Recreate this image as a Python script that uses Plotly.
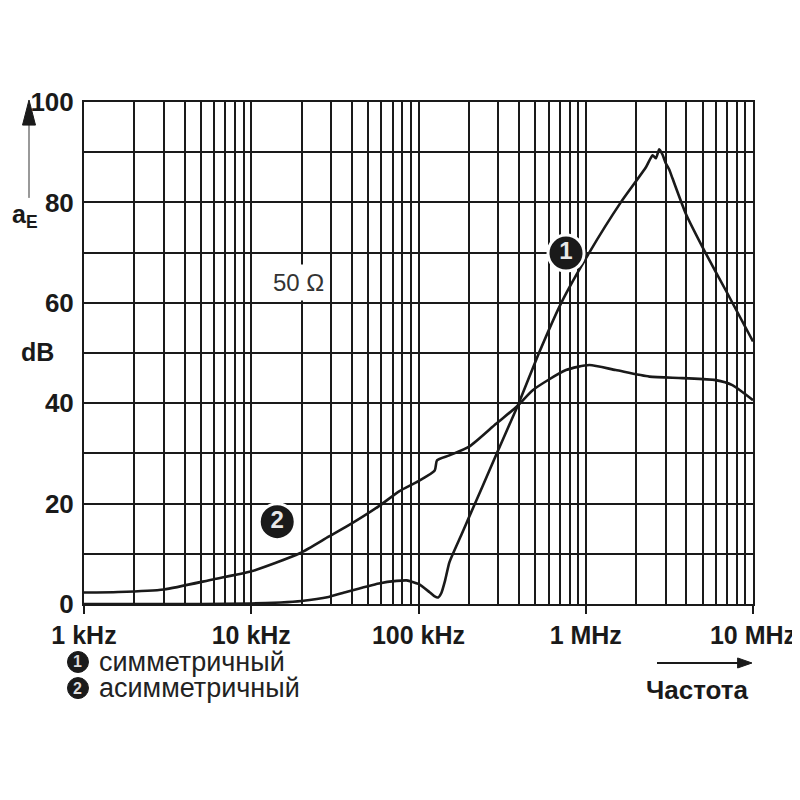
import plotly.graph_objects as go

# Частота, Гц и затухание, dB
freq_sym = [1000, 5000, 10000, 15000, 20000, 29000, 37000, 58000, 74000, 85000,
            100000, 116000, 125000, 131000, 137000, 144000, 153000, 180000,
            206000, 242000, 291000, 392000, 525000, 714000, 1050000, 1620000,
            2290000, 2510000, 2630000, 2750000, 2880000, 3010000, 3160000,
            3300000, 3960000, 5210000, 6870000, 10000000]
db_sym = [0.0, 0.0, 0.1, 0.3, 0.6, 1.4, 2.4, 4.1, 4.6, 4.7,
          4.0, 2.4, 1.5, 1.3, 2.2, 4.6, 8.3, 13.7,
          18.2, 23.5, 29.7, 39.5, 50.0, 60.0, 70.0, 80.0,
          87.0, 89.4, 88.8, 90.6, 89.5, 87.8, 86.5,
          84.8, 77.8, 69.9, 62.5, 52.3]

freq_asym = [1000, 1600, 3000, 5900, 10000, 19500, 29000, 37000, 58000, 77000,
             100000, 125000, 129000, 153000, 202000, 291000, 392000, 482000,
             762000, 1050000, 1510000, 2400000, 3780000, 5980000, 7530000,
             10000000]
db_asym = [2.3, 2.4, 2.9, 4.9, 6.5, 10.1, 13.4, 15.4, 19.5, 22.5,
           24.5, 26.6, 28.6, 29.6, 31.4, 35.9, 39.5, 42.6,
           46.6, 47.6, 46.6, 45.3, 45.0, 44.6, 43.6,
           40.6]

x_tick_vals = [1e3, 1e4, 1e5, 1e6, 1e7]
x_tick_text = ["1 kHz", "10 kHz", "100 kHz", "1 MHz", "10 MHz"]
x_minor_vals = [k * 10 ** e for e in range(3, 7) for k in range(2, 10)]
y_tick_vals = list(range(0, 101, 10))
y_tick_text = [str(v) if v % 20 == 0 else "" for v in y_tick_vals]

INK = "#1a1a1a"
FONT = "Liberation Sans, Arial, sans-serif"

fig = go.Figure()

fig.add_trace(go.Scatter(x=freq_sym, y=db_sym, mode="lines",
                         line=dict(color=INK, width=2.6, shape="spline", smoothing=0.5),
                         name="симметричный"))
fig.add_trace(go.Scatter(x=freq_asym, y=db_asym, mode="lines",
                         line=dict(color=INK, width=2.6, shape="spline", smoothing=0.6),
                         name="асимметричный"))

# номера кривых в чёрных кружках
fig.add_trace(go.Scatter(
    x=[762000, 14300], y=[69.9, 16.4], mode="markers+text", text=["1", "2"],
    textposition="middle center",
    textfont=dict(color="#e8e8e8", size=24, family=FONT, weight="bold"),
    marker=dict(size=36, color=INK, line=dict(color="white", width=3)),
    cliponaxis=False, hoverinfo="skip",
))

fig.update_layout(
    width=800, height=800,
    margin=dict(l=76, r=55, t=94, b=204),
    paper_bgcolor="white", plot_bgcolor="white",
    showlegend=False,
    font=dict(family=FONT, color=INK),
    xaxis=dict(
        type="log", range=[3, 7],
        tickvals=x_tick_vals, ticktext=x_tick_text,
        tickfont=dict(size=25, weight="bold", color=INK),
        ticks="outside", ticklen=8, tickwidth=2, tickcolor=INK,
        showgrid=True, gridcolor=INK, gridwidth=2,
        minor=dict(tickvals=x_minor_vals, showgrid=True, gridcolor=INK,
                   gridwidth=2, ticks=""),
        showline=True, linecolor=INK, linewidth=2, mirror=True,
        zeroline=False,
    ),
    yaxis=dict(
        range=[0, 100],
        tickvals=y_tick_vals, ticktext=y_tick_text,
        tickfont=dict(size=26, weight="bold", color=INK),
        ticks="", ticklabelstandoff=3,
        showgrid=True, gridcolor=INK, gridwidth=2,
        showline=True, linecolor=INK, linewidth=2, mirror=True,
        zeroline=False,
    ),
)


def note(x, y, text, size, anchor="center", **font):
    return dict(x=x, y=y, xref="paper", yref="paper", xanchor=anchor,
                yanchor="middle", text=text, showarrow=False,
                font=dict(size=size, **font))


annotations = [
    dict(note(0.32, 0.641, "50 Ω", 24, color="#333"), bgcolor="white", borderpad=4),
    note(-0.070, 0.502, "dB", 25, weight="bold"),
    note(-0.088, 0.772, "a<sub>E</sub>", 25, weight="bold"),
    note(0.020, -0.1155, "симметричный", 27, anchor="left", color="#222"),
    note(0.020, -0.1675, "асимметричный", 27, anchor="left", color="#222"),
    note(-0.0090, -0.1155, "1", 16, color="#ddd", weight="bold"),
    note(-0.0090, -0.1675, "2", 16, color="#ddd", weight="bold"),
    note(0.9163, -0.1713, "Частота", 26, weight="bold"),
]
fig.update_layout(annotations=annotations)

shapes = [
    # стрелка оси a_E
    dict(type="line", xref="paper", yref="paper", x0=-0.0822, x1=-0.0822,
         y0=0.809, y1=0.956, line=dict(color="#999", width=2)),
    dict(type="path", xref="paper", yref="paper",
         path="M -0.0919 0.954 L -0.0725 0.954 L -0.0822 1.004 Z",
         fillcolor=INK, line=dict(color=INK, width=1)),
    # стрелка частоты
    dict(type="line", xref="paper", yref="paper", x0=0.8565, x1=0.980,
         y0=-0.1175, y1=-0.1175, line=dict(color=INK, width=2)),
    dict(type="path", xref="paper", yref="paper",
         path="M 0.977 -0.1075 L 0.977 -0.1275 L 0.9985 -0.1175 Z",
         fillcolor=INK, line=dict(color=INK, width=1)),
    # кружки легенды
    dict(type="circle", xref="paper", yref="paper",
         x0=-0.0247, x1=0.0067, y0=-0.0946, y1=-0.1364,
         fillcolor=INK, line=dict(color=INK, width=1)),
    dict(type="circle", xref="paper", yref="paper",
         x0=-0.0247, x1=0.0067, y0=-0.1466, y1=-0.1884,
         fillcolor=INK, line=dict(color=INK, width=1)),
]
fig.update_layout(shapes=shapes)

fig.write_html("out.html")
